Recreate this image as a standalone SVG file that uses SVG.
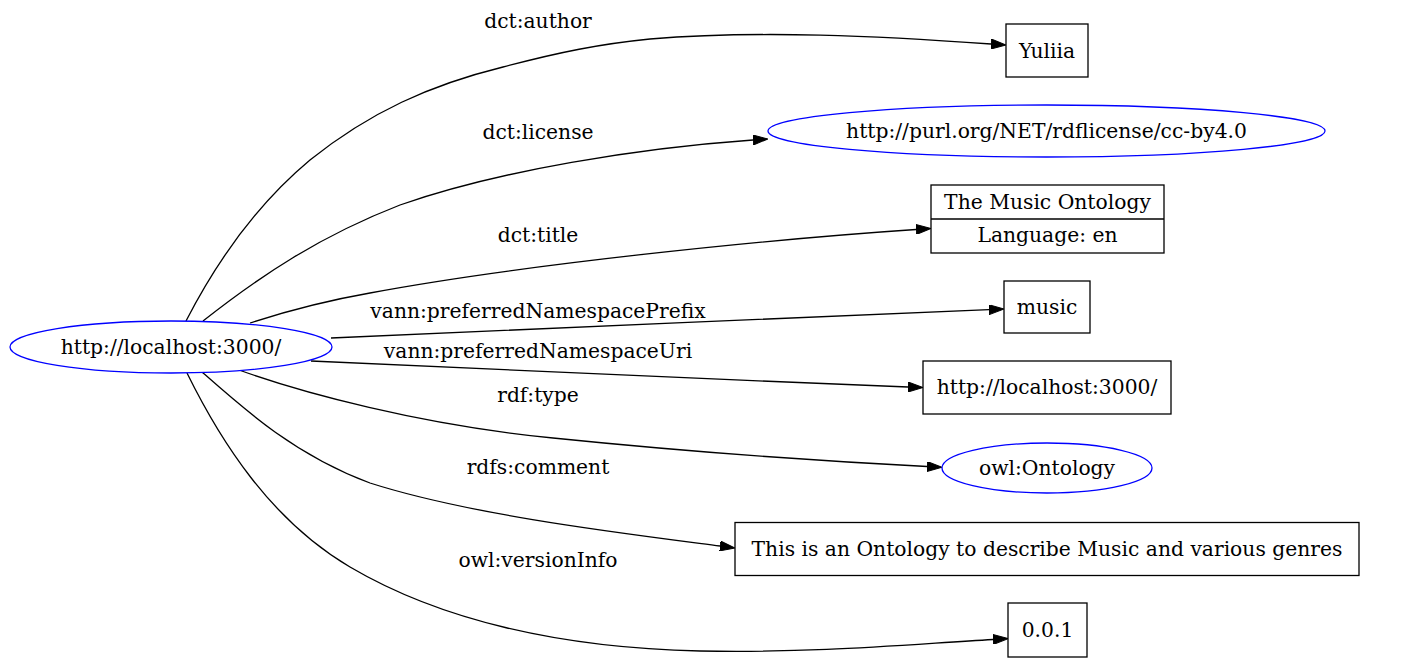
<svg xmlns="http://www.w3.org/2000/svg" width="1410" height="662" viewBox="0 0 1410 662">
<style>
text{font-family:"DejaVu Serif","Liberation Serif",serif;font-size:20.3px;fill:#000;text-anchor:middle}
.box{fill:#fff;stroke:#000;stroke-width:1.3}
.uri{fill:#fff;stroke:#0000ff;stroke-width:1.3}
.edge{fill:none;stroke:#000;stroke-width:1.3;marker-end:url(#arr)}
</style>
<defs>
<marker id="arr" viewBox="0 0 15 10" refX="0" refY="5" markerWidth="15" markerHeight="10" markerUnits="userSpaceOnUse" orient="auto">
<path d="M0,0 L15,5 L0,10 z" fill="#000" stroke="#000" stroke-width="1"/>
</marker>
</defs>
<rect width="1410" height="662" fill="#fff"/>
<g id="edges">
<path class="edge" d="M186,321 C220,255 262,200 310,160 C370,112 430,85 503,67 C560,52 600,44 650,39 C760,30 880,36 991,44"/>
<text x="538" y="28">dct:author</text>
<path class="edge" d="M203,321 C260,276 320,236 400,205 C500,170 640,148 753,140"/>
<text x="538" y="139">dct:license</text>
<path class="edge" d="M250,323 C290,310 330,300 370,293 C520,265 760,240 916,229.5"/>
<text x="538" y="242">dct:title</text>
<path class="edge" d="M331,338 C500,331 800,317 989,309.6"/>
<text x="538" y="318">vann:preferredNamespacePrefix</text>
<path class="edge" d="M311,361 C450,367 700,379 908,387"/>
<text x="538" y="358">vann:preferredNamespaceUri</text>
<path class="edge" d="M239,370 C300,392 420,425 553,438 C700,453 820,461 927,466.5"/>
<text x="538" y="402">rdf:type</text>
<path class="edge" d="M202,372 C245,410 295,455 370,483 C470,515 620,533 720,546"/>
<text x="538" y="474">rdfs:comment</text>
<path class="edge" d="M187,373 C220,440 270,520 350,567 C440,620 560,648 700,651 C820,653 900,645 993,639.5"/>
<text x="538" y="567">owl:versionInfo</text>
</g>
<g id="n-source">
<ellipse class="uri" cx="171" cy="347" rx="161" ry="26"/>
<text x="171" y="353.5">http://localhost:3000/</text>
</g>
<g id="n-yuliia">
<rect class="box" x="1006" y="24" width="82" height="53"/>
<text x="1047" y="57.5">Yuliia</text>
</g>
<g id="n-license">
<ellipse class="uri" cx="1046.5" cy="131" rx="278.5" ry="26"/>
<text x="1046.5" y="137.5">http://purl.org/NET/rdflicense/cc-by4.0</text>
</g>
<g id="n-title">
<rect class="box" x="931" y="185" width="233" height="68"/>
<line x1="931" y1="219" x2="1164" y2="219" stroke="#000" stroke-width="1.3"/>
<text x="1047.5" y="208.5">The Music Ontology</text>
<text x="1047.5" y="242">Language: en</text>
</g>
<g id="n-music">
<rect class="box" x="1004" y="281" width="86" height="52"/>
<text x="1047" y="313.5">music</text>
</g>
<g id="n-uri">
<rect class="box" x="923" y="361" width="248" height="53"/>
<text x="1047" y="394">http://localhost:3000/</text>
</g>
<g id="n-type">
<ellipse class="uri" cx="1047" cy="468" rx="105" ry="25"/>
<text x="1047" y="475">owl:Ontology</text>
</g>
<g id="n-comment">
<rect class="box" x="735" y="522.5" width="624" height="53"/>
<text x="1047" y="555.5">This is an Ontology to describe Music and various genres</text>
</g>
<g id="n-version">
<rect class="box" x="1008" y="603" width="79" height="54"/>
<text x="1047.5" y="637">0.0.1</text>
</g>
</svg>
